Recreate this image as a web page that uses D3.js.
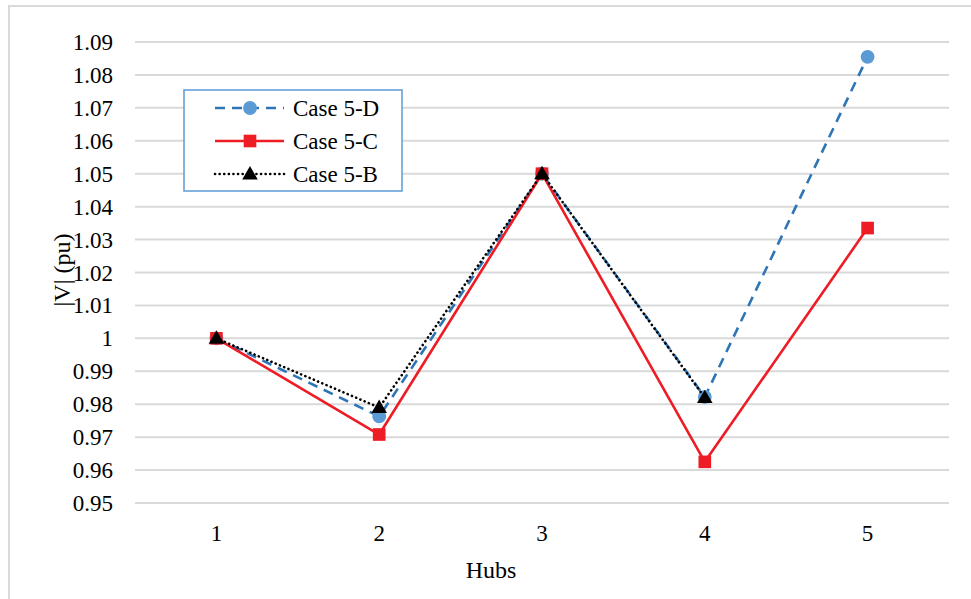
<!DOCTYPE html>
<html>
<head>
<meta charset="utf-8">
<script src="https://cdn.jsdelivr.net/npm/d3@7/dist/d3.min.js"></script>
<style>
  html, body { margin: 0; padding: 0; background: #fff; }
  svg { display: block; }
  svg text { font-family: "Liberation Serif", serif; }
</style>
</head>
<body>
<svg id="chart" width="971" height="599"></svg>
<script>
// Hub indices on the x axis
const hubs = ["1", "2", "3", "4", "5"];
// Voltage magnitude per hub (pu)
const case5D = [1.000, 0.9763, 1.050, 0.9822, 1.0855];
const case5C = [1.000, 0.9708, 1.050, 0.9625, 1.0335];
const case5B = [1.000, 0.9790, 1.050, 0.9820];
// Y-axis tick values
const yTicks = [0.95, 0.96, 0.97, 0.98, 0.99, 1.00, 1.01, 1.02, 1.03, 1.04, 1.05, 1.06, 1.07, 1.08, 1.09];

const svg = d3.select("#chart");
const FONT = "Liberation Serif";

// Outer chart frame
svg.append("rect")
  .attr("x", 9).attr("y", 6).attr("width", 980).attr("height", 620)
  .attr("fill", "#fff").attr("stroke", "#d9d9d9").attr("stroke-width", 2);

const plot = { left: 135, right: 949, top: 42, bottom: 503 };

const x = d3.scaleBand().domain(hubs).range([plot.left, plot.right]).padding(0);
const y = d3.scaleLinear().domain([0.95, 1.09]).range([plot.bottom, plot.top]);
const cx = (i) => x(hubs[i]) + x.bandwidth() / 2;

// Horizontal gridlines
svg.append("g").selectAll("line").data(yTicks).join("line")
  .attr("x1", plot.left).attr("x2", plot.right)
  .attr("y1", d => y(d)).attr("y2", d => y(d))
  .attr("stroke", "#d9d9d9").attr("stroke-width", 2);

// Y axis labels
const fmt = d => (Math.abs(d - 1) < 1e-9 ? "1" : d3.format(".2f")(d));
svg.append("g").selectAll("text").data(yTicks).join("text")
  .attr("x", 113).attr("y", d => y(d) + 8)
  .attr("text-anchor", "end")
  .attr("font-family", FONT)
  .attr("font-size", 23)
  .attr("fill", "#000")
  .text(fmt);

// X axis labels
svg.append("g").selectAll("text").data(hubs).join("text")
  .attr("x", (d, i) => cx(i)).attr("y", 541)
  .attr("text-anchor", "middle")
  .attr("font-family", FONT)
  .attr("font-size", 23)
  .attr("fill", "#000")
  .text(d => d);

// Axis titles
svg.append("text")
  .attr("x", 491).attr("y", 578)
  .attr("text-anchor", "middle").attr("font-family", FONT)
  .attr("font-size", 24).attr("fill", "#000")
  .text("Hubs");
svg.append("text")
  .attr("transform", "translate(70,270) rotate(-90)")
  .attr("text-anchor", "middle").attr("font-family", FONT)
  .attr("font-size", 24).attr("fill", "#000")
  .text("|V| (pu)");

const series = [
  { name: "Case 5-D", values: case5D, line: "#2e75b6", fill: "#5b9bd5", dash: "10,7", cap: "butt", marker: "circle" },
  { name: "Case 5-C", values: case5C, line: "#ee1c25", fill: "#ee1c25", dash: null, cap: "butt", marker: "square" },
  { name: "Case 5-B", values: case5B, line: "#000", fill: "#000", dash: "0.1,4.5", cap: "round", marker: "triangle" }
];

const symbolFor = (m) => {
  if (m === "circle") return d3.symbol(d3.symbolCircle, 150)();
  if (m === "square") return d3.symbol(d3.symbolSquare, 160)();
  return d3.symbol(d3.symbolTriangle, 105)();
};

const lineGen = d3.line().x(d => cx(d.i)).y(d => y(d.v));

series.forEach(s => {
  const pts = s.values.map((v, i) => ({ i, v }));
  const g = svg.append("g");
  g.append("path")
    .attr("d", lineGen(pts))
    .attr("fill", "none")
    .attr("stroke", s.line)
    .attr("stroke-width", 2.6)
    .attr("stroke-linecap", s.cap)
    .attr("stroke-linejoin", "round")
    .attr("stroke-dasharray", s.dash);
  g.selectAll("path.mk").data(pts).join("path")
    .attr("class", "mk")
    .attr("d", symbolFor(s.marker))
    .attr("transform", d => `translate(${cx(d.i)},${y(d.v) + (s.marker === "triangle" ? 1 : 0)})`)
    .attr("fill", s.fill);
});

// Legend
const lg = svg.append("g");
lg.append("rect")
  .attr("x", 184).attr("y", 90).attr("width", 218).attr("height", 101)
  .attr("fill", "#fff").attr("stroke", "#5b9bd5").attr("stroke-width", 1.5);
series.forEach((s, k) => {
  const yy = 108 + k * 33;
  lg.append("line")
    .attr("x1", 215).attr("x2", 284).attr("y1", yy).attr("y2", yy)
    .attr("stroke", s.line).attr("stroke-width", 2.6)
    .attr("stroke-linecap", s.cap)
    .attr("stroke-dasharray", s.dash);
  lg.append("path")
    .attr("d", symbolFor(s.marker))
    .attr("transform", `translate(250,${yy + (s.marker === "triangle" ? 1 : 0)})`)
    .attr("fill", s.fill);
  lg.append("text")
    .attr("x", 293).attr("y", yy + 8)
    .attr("font-family", FONT)
    .attr("font-size", 23).attr("fill", "#000")
    .text(s.name);
});
</script>
</body>
</html>
